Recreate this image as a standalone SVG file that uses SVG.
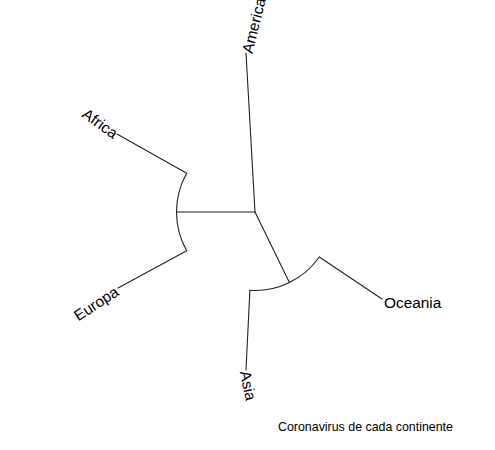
<svg xmlns="http://www.w3.org/2000/svg" width="495" height="450" viewBox="0 0 495 450">
<style>
.e{fill:none;stroke:#222;stroke-width:1.1;stroke-linecap:round}
.t{font-family:"Liberation Sans",Arial,sans-serif;font-size:15.4px;fill:#000}
.c{font-family:"Liberation Sans",Arial,sans-serif;font-size:12.4px;fill:#000}
</style>
<rect width="495" height="450" fill="#fff"/>
<g id="edges">
<line class="e" x1="255" y1="212" x2="246" y2="53"/>
<line class="e" x1="255" y1="212" x2="176.5" y2="212"/>
<path class="e" d="M186.7,173.3 A78.5,78.5 0 0 0 186.7,250.7"/>
<line class="e" x1="186.7" y1="173.3" x2="117" y2="134"/>
<line class="e" x1="186.7" y1="250.7" x2="118" y2="288"/>
<line class="e" x1="255" y1="212" x2="289.4" y2="282.6"/>
<path class="e" d="M249.9,290.3 A78.5,78.5 0 0 0 319.3,257"/>
<line class="e" x1="319.3" y1="257" x2="382" y2="299"/>
<line class="e" x1="249.9" y1="290.3" x2="246" y2="370"/>
</g>
<g id="America"><text class="t" transform="translate(247,53) rotate(-76)" dy="0.35em">America</text></g>
<g id="Africa"><text class="t" transform="translate(116,135) rotate(36)" dy="0.35em" text-anchor="end">Africa</text></g>
<g id="Europa"><text class="t" transform="translate(117,290) rotate(-33)" dy="0.35em" text-anchor="end">Europa</text></g>
<g id="Oceania"><text class="t" x="384" y="303" dy="0.35em">Oceania</text></g>
<g id="Asia"><text class="t" transform="translate(245,371) rotate(78)" dy="0.35em">Asia</text></g>
<g id="caption"><text class="c" x="278" y="431">Coronavirus de cada continente</text></g>
</svg>
